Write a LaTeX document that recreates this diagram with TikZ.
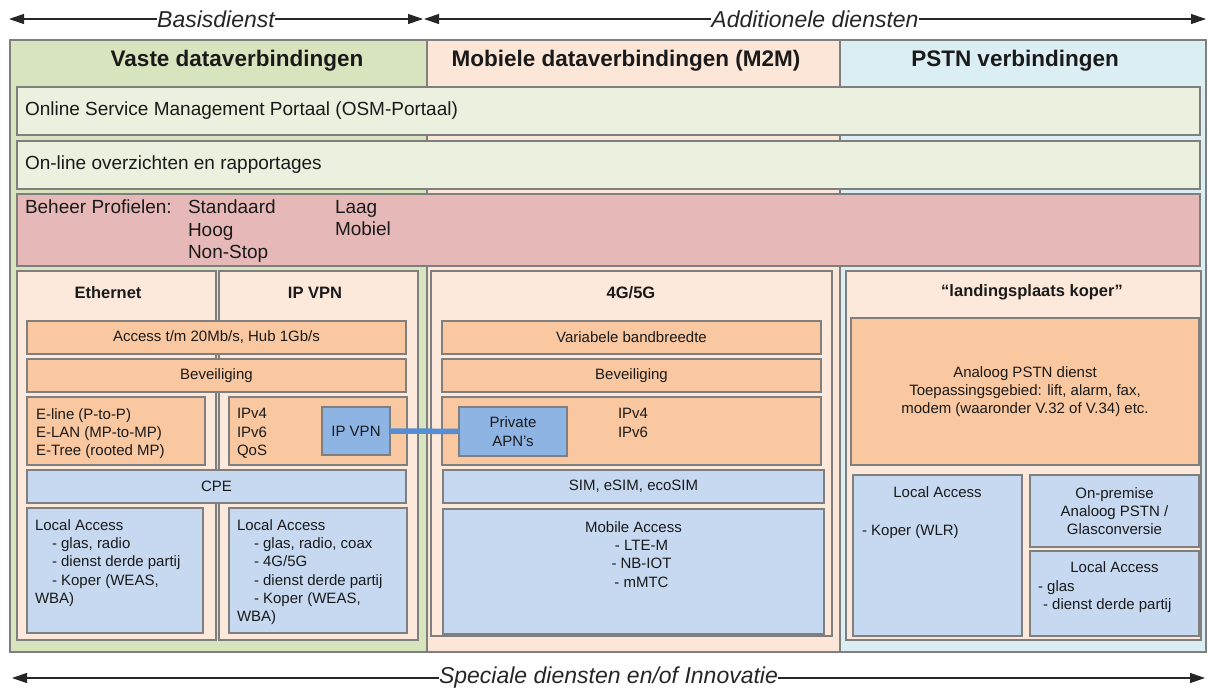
\documentclass[tikz,border=0pt]{standalone}
\usepackage{fontspec}
\setmainfont{Liberation Sans}
\usepackage{xcolor}
\usepackage{tikz}
\usetikzlibrary{positioning}
\usetikzlibrary{arrows.meta}

\definecolor{rand}{HTML}{7F7F7F}
\definecolor{inkt}{HTML}{1A1A1A}
\definecolor{vastegroen}{HTML}{D7E4BD}
\definecolor{mobielperzik}{HTML}{FCE6D8}
\definecolor{pstnblauw}{HTML}{DBEEF4}
\definecolor{rijgroen}{HTML}{EBF1DE}
\definecolor{beheerrood}{HTML}{E6B9B8}
\definecolor{paneel}{HTML}{FCE9DB}
\definecolor{oranje}{HTML}{F9C7A0}
\definecolor{lichtblauw}{HTML}{C6D9F1}
\definecolor{vpnblauw}{HTML}{8EB4E3}
\definecolor{lijnblauw}{HTML}{558ED5}

\newcommand*{\klein}{\fontsize{15}{18.3}\selectfont}
\newcommand*{\gewoon}{\fontsize{19}{22.5}\selectfont}
\newcommand*{\kolomfont}{\fontsize{22.5}{26}\selectfont\bfseries}
\newcommand*{\paneelfont}{\fontsize{16.5}{20}\selectfont\bfseries}
\newcommand*{\pijlfont}{\fontsize{23}{27}\selectfont\itshape}

\tikzstyle{vlak}=[rectangle,draw=rand,line width=1.5pt,inner sep=0pt,outer sep=0pt,anchor=north west,text=inkt]
\tikzstyle{blok}=[vlak,fill=oranje,font=\klein,align=center]
\tikzstyle{blauwblok}=[vlak,fill=lichtblauw,font=\klein,align=center]
\tikzstyle{tekst}=[inner sep=0pt,outer sep=0pt,font=\klein,align=left,anchor=north west,text=inkt]
\tikzstyle{rijtekst}=[inner sep=0pt,outer sep=0pt,font=\gewoon,align=left,anchor=west,text=inkt]
\tikzstyle{kop}=[inner sep=0pt,font=\kolomfont,text=inkt]
\tikzstyle{paneelkop}=[inner sep=0pt,font=\paneelfont,text=inkt]
\tikzstyle{pijl}=[{Triangle[length=15pt,width=10pt]}-{Triangle[length=15pt,width=10pt]},line width=1.1pt,black!85]
\tikzstyle{pijllabel}=[fill=white,inner sep=0.5pt,font=\pijlfont,text=black!85]

\begin{document}
\begin{tikzpicture}[x=1pt,y=-1pt]
\useasboundingbox (0,0) rectangle (1209,688);

%pijlen boven en onder
\coordinate (basisl) at (9,19);
\coordinate (basisr) at (423,19);
\coordinate (addl) at (424,19);
\coordinate (addr) at (1206,19);
\coordinate (specl) at (12,678);
\coordinate (specr) at (1205,678);
\draw[pijl] (basisl) -- node[pijllabel] (basislabel) {Basisdienst} (basisr);
\draw[pijl] (addl) -- node[pijllabel] (addlabel) {Additionele diensten} (addr);
\draw[pijl] (specl) -- node[pijllabel] (speclabel) {Speciale diensten en/of Innovatie} (specr);

%kolommen
\node[vlak,fill=vastegroen,minimum width=417pt,minimum height=612pt] (vaste) at (10,40) {};
\node[vlak,fill=mobielperzik,minimum width=413pt,minimum height=612pt] (mobiel) at (427,40) {};
\node[vlak,fill=pstnblauw,minimum width=366pt,minimum height=612pt] (pstn) at (840,40) {};
\node[kop] (vastekop) at (237,61) {Vaste dataverbindingen};
\node[kop] (mobielkop) at (626,61) {Mobiele dataverbindingen (M2M)};
\node[kop] (pstnkop) at (1015,61) {PSTN verbindingen};

%rijen
\node[vlak,fill=rijgroen,minimum width=1183pt,minimum height=48pt] (osm) at (17,87) {};
\node[rijtekst] (osmtekst) at (25,111) {Online Service Management Portaal (OSM-Portaal)};
\node[vlak,fill=rijgroen,minimum width=1183pt,minimum height=48pt] (overz) at (17,141) {};
\node[rijtekst] (overztekst) at (25,165) {On-line overzichten en rapportages};
\node[vlak,fill=beheerrood,minimum width=1183pt,minimum height=72pt] (beheer) at (17,194) {};
\node[rijtekst,anchor=north west] (profielen) at (25,200) {Beheer Profielen:};
\node[rijtekst,anchor=north west] (profiel1) at (188,200) {Standaard\\Hoog\\Non-Stop};
\node[rijtekst,anchor=north west] (profiel2) at (335,200) {Laag\\Mobiel};

%panelen
\node[vlak,fill=paneel,minimum width=199pt,minimum height=369pt] (eth) at (17,271) {};
\node[vlak,fill=paneel,minimum width=199pt,minimum height=369pt] (ipvpnp) at (219,271) {};
\node[vlak,fill=paneel,minimum width=401pt,minimum height=365pt] (g45) at (431,271) {};
\node[vlak,fill=paneel,minimum width=355pt,minimum height=369pt] (land) at (846,271) {};
\node[paneelkop] (ethkop) at (108,293) {Ethernet};
\node[paneelkop] (ipvpnkop) at (315,293) {IP VPN};
\node[paneelkop] (g45kop) at (631,293) {4G/5G};
\node[paneelkop] (landkop) at (1032,292) {“landingsplaats koper”};

%vaste dataverbindingen
\node[blok,minimum width=379pt,minimum height=33pt] (acc) at (27,321) {Access t/m 20Mb/s, Hub 1Gb/s};
\node[blok,minimum width=379pt,minimum height=33pt] (bev1) at (27,359) {Beveiliging};
\node[blok,minimum width=178pt,minimum height=68pt] (eline) at (27,397) {};
\node[tekst,below right=11.5pt and 9pt of eline.north west] (elinetekst) {E-line (P-to-P)\\E-LAN (MP-to-MP)\\E-Tree (rooted MP)};
\node[blok,minimum width=178pt,minimum height=68pt] (ipv) at (229,397) {};
\node[tekst,below right=11.5pt and 8pt of ipv.north west] (ipvtekst) {IPv4\\IPv6\\QoS};
\node[vlak,fill=vpnblauw,font=\klein,minimum width=68pt,minimum height=48pt] (ipvpn) at (322,407) {IP VPN};
\node[blauwblok,minimum width=379pt,minimum height=33pt] (cpe) at (27,470) {CPE};
\node[blauwblok,minimum width=176pt,minimum height=125pt] (la1) at (27,508) {};
\node[tekst,below right=11.5pt and 8pt of la1.north west] (la1tekst) {Local Access\\\hspace*{17pt}- glas, radio\\\hspace*{17pt}- dienst derde partij\\\hspace*{17pt}- Koper (WEAS,\\WBA)};
\node[blauwblok,minimum width=178pt,minimum height=125pt] (la2) at (229,508) {};
\node[tekst,below right=11.5pt and 8pt of la2.north west] (la2tekst) {Local Access\\\hspace*{17pt}- glas, radio, coax\\\hspace*{17pt}- 4G/5G\\\hspace*{17pt}- dienst derde partij\\\hspace*{17pt}- Koper (WEAS,\\WBA)};

%mobiele dataverbindingen
\node[blok,minimum width=379pt,minimum height=33pt] (var) at (442,321) {Variabele bandbreedte};
\node[blok,minimum width=379pt,minimum height=33pt] (bev2) at (442,359) {Beveiliging};
\node[blok,minimum width=379pt,minimum height=68pt] (ipm) at (442,397) {};
\node[tekst,below right=11.5pt and 176pt of ipm.north west] (ipmtekst) {IPv4\\IPv6};
\node[vlak,fill=vpnblauw,font=\klein,align=center,minimum width=108pt,minimum height=49pt] (apn) at (459,407) {Private\\APN’s};
\node[blauwblok,minimum width=381pt,minimum height=33pt] (sim) at (443,470) {SIM, eSIM, ecoSIM};
\node[blauwblok,minimum width=381pt,minimum height=125pt] (mob) at (443,509) {};
\node[tekst,align=center,anchor=north,below=12.5pt of mob.north] (mobtekst) {Mobile Access\\\hspace*{16pt}- LTE-M\\\hspace*{16pt}- NB-IOT\\\hspace*{16pt}- mMTC};

%pstn verbindingen
\node[blok,minimum width=348pt,minimum height=147pt] (analoog) at (851,318) {Analoog PSTN dienst\\Toepassingsgebied: lift, alarm, fax,\\modem (waaronder V.32 of V.34) etc.};
\node[blauwblok,minimum width=169pt,minimum height=161pt] (la3) at (853,475) {};
\node[tekst,anchor=north,below=11.5pt of la3.north] (la3kop) {Local Access};
\node[tekst,below right=49.5pt and 9pt of la3.north west] (la3tekst) {- Koper (WLR)};
\node[blauwblok,minimum width=169pt,minimum height=72pt] (onprem) at (1030,475) {On-premise\\Analoog PSTN /\\Glasconversie};
\node[blauwblok,minimum width=169pt,minimum height=85pt] (la4) at (1030,551) {};
\node[tekst,anchor=north,below=10.5pt of la4.north] (la4kop) {Local Access};
\node[tekst,below right=29.5pt and 8pt of la4.north west] (la4tekst) {- glas\\\hspace*{5pt}- dienst derde partij};

%koppeling IP VPN
\draw[lijnblauw,line width=5.5pt] (ipvpn) -- (apn);
\end{tikzpicture}
\end{document}
